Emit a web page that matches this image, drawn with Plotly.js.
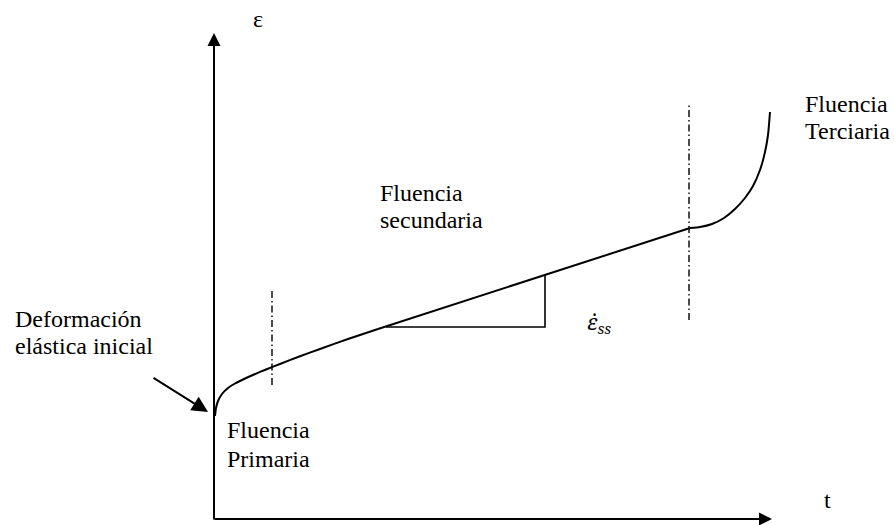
<!DOCTYPE html>
<html>
<head>
<meta charset="utf-8">
<script src="https://cdn.plot.ly/plotly-3.0.1.min.js"></script>
<style>
  html, body { margin: 0; padding: 0; background: #ffffff; }
  #chart { width: 894px; height: 525px; }
</style>
</head>
<body>
<div id="chart"></div>
<script>
// Creep curve: strain (ε) against time (t), schematic units
const primaryT   = [1, 2, 4, 8, 14, 21, 30, 40, 52, 66, 84, 106, 134, 164];
const primaryE   = [103, 111, 118, 125, 131, 135.5, 140, 144.5, 149.5, 155, 162, 170, 180, 190];
const secondaryT = [164, 331, 476];
const secondaryE = [190, 244, 291];
const tertiaryT  = [476, 486, 498, 510, 521, 531, 539, 546, 551, 554, 556];
const tertiaryE  = [291, 292, 295, 301, 310, 321, 333, 349, 367, 384, 407];

// Slope triangle for the steady-state rate
const slopeT = [172, 331, 331];
const slopeE = [192, 192, 244];

// Stage boundaries (dash-dot markers)
const boundaryT    = [58, 475];
const boundaryLowE = [134, 199];
const boundaryTopE = [229, 416];

const ink = '#000000';
const serif = 'Liberation Serif';

function curve(x, y, shape, width) {
  return {
    x: x, y: y, mode: 'lines', type: 'scatter',
    line: { color: ink, width: width, shape: shape, smoothing: 0.6 },
    hoverinfo: 'skip'
  };
}

const traces = [
  curve(primaryT, primaryE, 'spline', 2),
  curve(secondaryT, secondaryE, 'linear', 2),
  curve(tertiaryT, tertiaryE, 'spline', 2),
  curve(slopeT, slopeE, 'linear', 1.6)
];
boundaryT.forEach((t, i) => {
  traces.push({
    x: [t, t], y: [boundaryLowE[i], boundaryTopE[i]], mode: 'lines', type: 'scatter',
    line: { color: ink, width: 1.4, dash: '7px,3px,1.5px,3px' }, hoverinfo: 'skip'
  });
});

// Axis arrows and the pointer to the initial elastic strain
function arrow(x, y, ax, ay, size) {
  return {
    x: x, y: y, ax: ax, ay: ay, xref: 'x', yref: 'y', axref: 'x', ayref: 'y',
    text: '', showarrow: true, arrowhead: 2, arrowwidth: 2, arrowsize: size,
    arrowcolor: ink
  };
}
function label(text, x, y, anchor, family, size) {
  return {
    x: x, y: y, xref: 'x', yref: 'y', text: text, showarrow: false,
    xanchor: anchor || 'left', yanchor: 'middle',
    font: { family: family || serif, size: size || 24, color: ink }
  };
}

const annotations = [
  arrow(0, 486, 0, -2, 1.3),
  arrow(558, 0, -1, 0, 1.3),
  arrow(-6, 107, -62, 142, 1.6),
  label('ε', 44, 500, 'center'),
  label('t', 608, 19),
  label('Fluencia', 164, 326),
  label('secundaria', 164, 299),
  label('Fluencia', 589, 415),
  label('Terciaria', 589, 388),
  label('Deformación', -201, 200),
  label('elástica inicial', -201, 173),
  label('Fluencia', 11, 89),
  label('Primaria', 11, 60),
  label('<i>ε̇<sub>ss</sub></i>', 371, 196, 'left', 'Noto Serif', 21)
];

const layout = {
  width: 894, height: 525,
  margin: { l: 0, r: 0, t: 0, b: 0 },
  paper_bgcolor: '#ffffff', plot_bgcolor: '#ffffff',
  showlegend: false,
  xaxis: { range: [-214, 680], visible: false, fixedrange: true },
  yaxis: { range: [-6, 519], visible: false, fixedrange: true },
  annotations: annotations
};

Plotly.newPlot('chart', traces, layout, { staticPlot: true, displayModeBar: false });
</script>
</body>
</html>
